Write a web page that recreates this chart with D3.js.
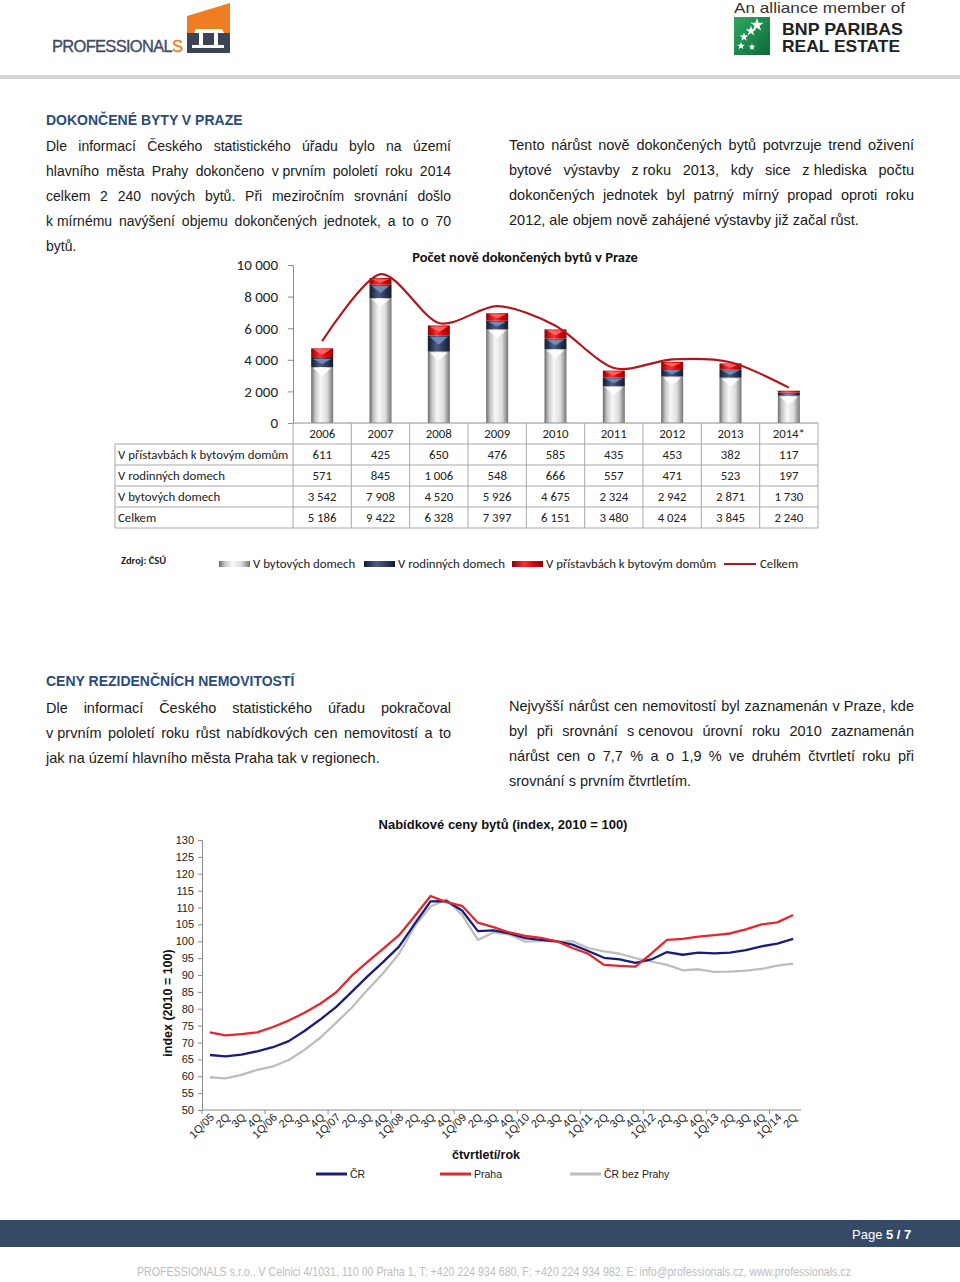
<!DOCTYPE html>
<html>
<head>
<meta charset="utf-8">
<script src="https://cdn.jsdelivr.net/npm/d3@7"></script>
<style>
  body { margin: 0; background: #fff; }
  svg { display: block; }
</style>
</head>
<body>
<script>
// ---- data: completed flats in Prague ----
const years = ["2006", "2007", "2008", "2009", "2010", "2011", "2012", "2013", "2014*"];
const pristavby = [611, 425, 650, 476, 585, 435, 453, 382, 117];
const rodinne = [571, 845, 1006, 548, 666, 557, 471, 523, 197];
const bytove = [3542, 7908, 4520, 5926, 4675, 2324, 2942, 2871, 1730];
const celkem = [5186, 9422, 6328, 7397, 6151, 3480, 4024, 3845, 2240];
const yTicksTop = [0, 2000, 4000, 6000, 8000, 10000];

// ---- data: offer prices index (2010 = 100) ----
const quarters = ["1Q/05", "2Q", "3Q", "4Q", "1Q/06", "2Q", "3Q", "4Q", "1Q/07", "2Q", "3Q", "4Q",
  "1Q/08", "2Q", "3Q", "4Q", "1Q/09", "2Q", "3Q", "4Q", "1Q/10", "2Q", "3Q", "4Q",
  "1Q/11", "2Q", "3Q", "4Q", "1Q/12", "2Q", "3Q", "4Q", "1Q/13", "2Q", "3Q", "4Q", "1Q/14", "2Q"];
const cr = [66.3, 65.9, 66.4, 67.4, 68.6, 70.4, 73.4, 76.8, 80.5, 85.0, 89.6, 93.9,
  98.4, 105.2, 111.8, 111.9, 109.1, 103.0, 103.2, 102.3, 100.9, 100.4, 100.0, 99.0,
  97.1, 95.1, 94.6, 93.6, 94.6, 96.8, 96.0, 96.6, 96.4, 96.6, 97.4, 98.5, 99.3, 100.7];
const praha = [73.0, 72.1, 72.5, 73.0, 74.6, 76.5, 78.8, 81.5, 84.8, 89.8, 93.9, 97.8,
  101.8, 107.5, 113.4, 111.6, 110.5, 105.5, 104.2, 102.6, 101.6, 101.0, 100.0, 98.0,
  96.3, 93.0, 92.7, 92.5, 96.3, 100.4, 100.7, 101.4, 101.8, 102.3, 103.5, 105.0, 105.6, 107.8];
const crBezPrahy = [59.7, 59.4, 60.4, 61.9, 62.9, 64.8, 67.8, 71.4, 75.8, 80.3, 85.6, 90.6,
  96.3, 104.5, 110.3, 112.4, 107.8, 100.4, 102.6, 102.0, 99.9, 100.1, 99.9, 100.0,
  98.0, 97.0, 96.3, 95.0, 94.0, 93.0, 91.4, 91.7, 90.9, 91.0, 91.3, 91.8, 92.8, 93.4];
const yTicksBottom = d3.range(50, 131, 5);

const ARIAL = "'Liberation Sans', Arial, sans-serif";
const CALIBRI = "Carlito, Lato, sans-serif";
const HEAD_BLUE = "#2a4b7c";

const svg = d3.select("body").append("svg")
    .attr("width", 960)
    .attr("height", 1282);

const defs = svg.append("defs");

function hGrad(id, stops) {
  let g = defs.append("linearGradient").attr("id", id)
      .attr("x1", 0).attr("x2", 1).attr("y1", 0).attr("y2", 0);
  stops.forEach(s => g.append("stop").attr("offset", s[0]).attr("stop-color", s[1]));
}
hGrad("gGray", [[0, "#6a6a6a"], [0.18, "#c4c4c4"], [0.42, "#f8f8f8"], [0.72, "#dcdcdc"], [1, "#747474"]]);
hGrad("gNavy", [[0, "#121b30"], [0.4, "#4b5e82"], [0.7, "#2d3c5c"], [1, "#131a2e"]]);
hGrad("gRed", [[0, "#8e0000"], [0.4, "#ff3030"], [0.7, "#e00000"], [1, "#8e0000"]]);
let vg = defs.append("linearGradient").attr("id", "gGreen")
    .attr("x1", 0).attr("x2", 1).attr("y1", 0).attr("y2", 1);
vg.append("stop").attr("offset", 0).attr("stop-color", "#2fa860");
vg.append("stop").attr("offset", 1).attr("stop-color", "#0c6a3a");

// ================= header =================
let logo = svg.append("g");
logo.append("polygon")
    .attr("points", "187,16 230,3 230,33 187,33")
    .attr("fill", "#ee7d23");
logo.append("rect").attr("x", 187).attr("y", 33).attr("width", 43).attr("height", 20).attr("fill", "#3c4357");
// little white "building" in the icon
logo.append("polygon").attr("points", "196,29 222,29 224,33 194,33").attr("fill", "#fff");
logo.append("rect").attr("x", 199).attr("y", 33).attr("width", 4).attr("height", 12).attr("fill", "#fff");
logo.append("rect").attr("x", 214).attr("y", 33).attr("width", 4).attr("height", 12).attr("fill", "#fff");
logo.append("rect").attr("x", 192).attr("y", 45).attr("width", 32).attr("height", 3).attr("fill", "#fff");
let ptxt = logo.append("text")
    .attr("x", 52).attr("y", 52)
    .attr("font-family", ARIAL).attr("font-size", 16.5)
    .attr("letter-spacing", -0.7)
    .attr("fill", "#3f4b66").attr("stroke", "#3f4b66").attr("stroke-width", 0.35);
ptxt.append("tspan").text("PROFESSIONAL");
ptxt.append("tspan").attr("fill", "#ee7d23").attr("stroke", "#ee7d23").text("S");

let bnp = svg.append("g");
bnp.append("text").attr("x", 734).attr("y", 13)
    .attr("font-family", ARIAL).attr("font-size", 15).attr("fill", "#333")
    .attr("textLength", 171).attr("lengthAdjust", "spacingAndGlyphs")
    .text("An alliance member of");
bnp.append("rect").attr("x", 734).attr("y", 17).attr("width", 36).attr("height", 38).attr("fill", "url(#gGreen)");
[[757, 25, 3], [751, 31, 2.4], [744, 37, 2], [741, 46, 1.8], [752, 47, 1.6]].forEach(s => {
  bnp.append("path")
      .attr("d", d3.symbol(d3.symbolStar, s[2] * s[2] * 6)())
      .attr("transform", `translate(${s[0]},${s[1]})`)
      .attr("fill", "#fff");
});
bnp.append("text").attr("x", 782).attr("y", 35)
    .attr("font-family", ARIAL).attr("font-weight", "bold").attr("font-size", 17).attr("fill", "#222")
    .attr("textLength", 121).attr("lengthAdjust", "spacingAndGlyphs").text("BNP PARIBAS");
bnp.append("text").attr("x", 782).attr("y", 52)
    .attr("font-family", ARIAL).attr("font-weight", "bold").attr("font-size", 17).attr("fill", "#222")
    .attr("textLength", 118).attr("lengthAdjust", "spacingAndGlyphs").text("REAL ESTATE");

svg.append("rect").attr("x", 0).attr("y", 75).attr("width", 960).attr("height", 4).attr("fill", "#d4d4d4");

// ================= text blocks =================
function heading(x, y, t) {
  svg.append("text").attr("x", x).attr("y", y)
      .attr("font-family", ARIAL).attr("font-weight", "bold").attr("font-size", 14)
      .attr("fill", HEAD_BLUE).text(t);
}

// justified paragraph, word by word; nbsp keeps one-letter words glued
function paragraph(x, y, w, lines, nJust, size) {
  lines.forEach((line, i) => {
    let t = svg.append("text")
        .attr("y", y + i * 25)
        .attr("font-family", ARIAL).attr("font-size", size)
        .attr("fill", "#1a1a1a");
    if (i >= nJust) {
      t.attr("x", x).text(line);
      return;
    }
    let words = line.split(" ");
    let spans = words.map(wd => t.append("tspan").text(wd));
    let widths = spans.map(s => s.node().getComputedTextLength());
    let gap = (w - d3.sum(widths)) / (words.length - 1);
    let cx = x;
    spans.forEach((s, j) => { s.attr("x", cx); cx += widths[j] + gap; });
  });
}

heading(46, 125, "DOKONČENÉ BYTY V PRAZE");
paragraph(46, 151, 405, [
  "Dle informací Českého statistického úřadu bylo na území",
  "hlavního města Prahy dokončeno v\u00a0prvním pololetí roku 2014",
  "celkem 2 240 nových bytů. Při meziročním srovnání došlo",
  "k\u00a0mírnému navýšení objemu dokončených jednotek, a to o 70",
  "bytů."
], 4, 14);
paragraph(509, 150, 405, [
  "Tento nárůst nově dokončených bytů potvrzuje trend oživení",
  "bytové výstavby z\u00a0roku 2013, kdy sice z\u00a0hlediska počtu",
  "dokončených jednotek byl patrný mírný propad oproti roku",
  "2012, ale objem nově zahájené výstavby již začal růst."
], 3, 14.5);

heading(46, 686, "CENY REZIDENČNÍCH NEMOVITOSTÍ");
paragraph(46, 713, 405, [
  "Dle informací Českého statistického úřadu pokračoval",
  "v\u00a0prvním pololetí roku růst nabídkových cen nemovitostí a to",
  "jak na území hlavního města Praha tak v\u00a0regionech."
], 2, 14.5);
paragraph(509, 711, 405, [
  "Nejvyšší nárůst cen nemovitostí byl zaznamenán v\u00a0Praze, kde",
  "byl při srovnání s\u00a0cenovou úrovní roku 2010 zaznamenán",
  "nárůst cen o 7,7 % a o 1,9 % ve druhém čtvrtletí roku při",
  "srovnání s\u00a0prvním čtvrtletím."
], 3, 14.5);

// ================= chart 1: completed flats =================
const cz = d3.formatLocale({decimal: ",", thousands: "\u00a0", grouping: [3], currency: ["", ""]});
const fmt = cz.format(",d");

const x1 = d3.scaleBand().domain(years).range([293, 818]);
const y1 = d3.scaleLinear().domain([0, 10000]).range([423, 265]);

const c1 = svg.append("g").attr("font-family", CALIBRI);

c1.append("text").attr("x", 525).attr("y", 262)
    .attr("text-anchor", "middle").attr("font-weight", "bold").attr("font-size", 14.5)
    .attr("fill", "#111").text("Počet nově dokončených bytů v Praze");

let yAx1 = c1.append("g").attr("transform", "translate(293,0)")
    .call(d3.axisLeft(y1).tickValues(yTicksTop).tickSize(5).tickPadding(10).tickFormat(d => fmt(d)));
yAx1.select(".domain").attr("stroke", "#8c8c8c");
yAx1.selectAll(".tick line").attr("stroke", "#8c8c8c");
yAx1.selectAll(".tick text").attr("font-family", CALIBRI).attr("font-size", 15).attr("fill", "#222");

const rows = years.map((yr, i) => ({year: yr, bytove: bytove[i], rodinne: rodinne[i], pristavby: pristavby[i]}));
const stack = d3.stack().keys(["bytove", "rodinne", "pristavby"])(rows);
const fills = {bytove: "url(#gGray)", rodinne: "url(#gNavy)", pristavby: "url(#gRed)"};
const chev = {bytove: "#ffffff", rodinne: "#7d93bd", pristavby: "#ff7070"};
const barW = 22;

stack.forEach(layer => {
  let g = c1.append("g");
  g.selectAll("rect").data(layer).join("rect")
      .attr("x", d => x1(d.data.year) + x1.bandwidth() / 2 - barW / 2)
      .attr("y", d => y1(d[1]))
      .attr("width", barW)
      .attr("height", d => y1(d[0]) - y1(d[1]))
      .attr("fill", fills[layer.key]);
  g.selectAll("polygon").data(layer).join("polygon")
      .attr("points", d => {
        let cx = x1(d.data.year) + x1.bandwidth() / 2, t = y1(d[1]);
        let h = Math.min(8, (y1(d[0]) - t) * 0.55);
        return [[cx - barW / 2 + 2, t + 1], [cx + barW / 2 - 2, t + 1], [cx, t + 1 + h]].join(" ");
      })
      .attr("fill", chev[layer.key]).attr("opacity", 0.85);
});

const line1 = d3.line()
    .x((d, i) => x1(years[i]) + x1.bandwidth() / 2)
    .y(d => y1(d))
    .curve(d3.curveCardinal.tension(0.15));
c1.append("path").datum(celkem)
    .attr("d", line1).attr("fill", "none")
    .attr("stroke", "#b2161c").attr("stroke-width", 2.2);

// x axis baseline
c1.append("line").attr("x1", 293).attr("x2", 818).attr("y1", 423).attr("y2", 423).attr("stroke", "#8c8c8c");

// data table
const tRows = [
  {label: "V přístavbách k bytovým domům", vals: pristavby},
  {label: "V rodinných domech", vals: rodinne},
  {label: "V bytových domech", vals: bytove},
  {label: "Celkem", vals: celkem}
];
const rowH = 21, tTop = 423, tLeft = 115, tRight = 818;
let tbl = c1.append("g").attr("font-size", 12.8).attr("fill", "#222");
const lineCol = "#a8a8a8";
// header row
years.forEach(yr => {
  tbl.append("text").attr("x", x1(yr) + x1.bandwidth() / 2).attr("y", tTop + 15)
      .attr("text-anchor", "middle").text(yr);
});
x1.domain().concat([null]).forEach(yr => {
  let xx = yr === null ? tRight : x1(yr);
  tbl.append("line").attr("x1", xx).attr("x2", xx).attr("y1", tTop).attr("y2", tTop + rowH * 5).attr("stroke", lineCol);
});
tbl.append("line").attr("x1", tLeft).attr("x2", tLeft).attr("y1", tTop + rowH).attr("y2", tTop + rowH * 5).attr("stroke", lineCol);
d3.range(1, 6).forEach(r => {
  tbl.append("line").attr("x1", tLeft).attr("x2", tRight)
      .attr("y1", tTop + rowH * r).attr("y2", tTop + rowH * r).attr("stroke", lineCol);
});
tRows.forEach((row, r) => {
  let yy = tTop + rowH * (r + 1) + 15;
  tbl.append("text").attr("x", tLeft + 3).attr("y", yy).text(row.label);
  row.vals.forEach((v, i) => {
    tbl.append("text").attr("x", x1(years[i]) + x1.bandwidth() / 2).attr("y", yy)
        .attr("text-anchor", "middle").text(fmt(v));
  });
});

// legend
let lg1 = c1.append("g").attr("font-size", 12.8).attr("fill", "#222");
lg1.append("text").attr("x", 121).attr("y", 564).attr("font-weight", "bold").attr("font-size", 10.5).text("Zdroj: ČSÚ");
const legItems = [
  {x: 219, fill: "url(#gGray)", label: "V bytových domech"},
  {x: 364, fill: "url(#gNavy)", label: "V rodinných domech"},
  {x: 512, fill: "url(#gRed)", label: "V přístavbách k bytovým domům"}
];
legItems.forEach(it => {
  lg1.append("rect").attr("x", it.x).attr("y", 561).attr("width", 31).attr("height", 6).attr("fill", it.fill);
  lg1.append("text").attr("x", it.x + 34).attr("y", 568).text(it.label);
});
lg1.append("line").attr("x1", 724).attr("x2", 756).attr("y1", 564).attr("y2", 564).attr("stroke", "#b2161c").attr("stroke-width", 2);
lg1.append("text").attr("x", 760).attr("y", 568).text("Celkem");

// ================= chart 2: price index =================
const x2 = d3.scaleBand().domain(d3.range(quarters.length)).range([202, 801]);
const y2 = d3.scaleLinear().domain([50, 130]).range([1110, 840]);
const c2 = svg.append("g").attr("font-family", ARIAL);

c2.append("text").attr("x", 503).attr("y", 829)
    .attr("text-anchor", "middle").attr("font-weight", "bold").attr("font-size", 13)
    .attr("fill", "#111").text("Nabídkové ceny bytů (index, 2010 = 100)");

let yAx2 = c2.append("g").attr("transform", "translate(202,0)")
    .call(d3.axisLeft(y2).tickValues(yTicksBottom).tickSize(4).tickPadding(4));
yAx2.select(".domain").attr("stroke", "#8c8c8c");
yAx2.selectAll(".tick line").attr("stroke", "#8c8c8c");
yAx2.selectAll(".tick text").attr("font-family", ARIAL).attr("font-size", 11).attr("fill", "#222");

c2.append("line").attr("x1", 202).attr("x2", 801).attr("y1", 1110).attr("y2", 1110).attr("stroke", "#8c8c8c");
d3.range(0, quarters.length, 4).forEach(i => {
  c2.append("line").attr("x1", x2(i)).attr("x2", x2(i)).attr("y1", 1110).attr("y2", 1114).attr("stroke", "#8c8c8c");
});
quarters.forEach((q, i) => {
  let cx = x2(i) + x2.bandwidth() / 2;
  c2.append("text")
      .attr("transform", `translate(${cx + 5},${1118}) rotate(-45)`)
      .attr("text-anchor", "end").attr("font-size", 11).attr("fill", "#222")
      .text(q);
});

c2.append("text")
    .attr("transform", "translate(172,1003) rotate(-90)")
    .attr("text-anchor", "middle").attr("font-weight", "bold").attr("font-size", 12.5)
    .attr("fill", "#111").text("index (2010 = 100)");
c2.append("text").attr("x", 486).attr("y", 1159)
    .attr("text-anchor", "middle").attr("font-weight", "bold").attr("font-size", 12.5)
    .attr("fill", "#111").text("čtvrtletí/rok");

const series = [
  {name: "ČR bez Prahy", vals: crBezPrahy, color: "#bdbdbd", lx: 570},
  {name: "ČR", vals: cr, color: "#1a1d78", lx: 316},
  {name: "Praha", vals: praha, color: "#e5262b", lx: 440}
];
const line2 = d3.line()
    .x((d, i) => x2(i) + x2.bandwidth() / 2)
    .y(d => y2(d));
series.forEach(s => {
  c2.append("path").datum(s.vals)
      .attr("d", line2).attr("fill", "none")
      .attr("stroke", s.color).attr("stroke-width", 2.3)
      .attr("stroke-linejoin", "round");
  c2.append("line").attr("x1", s.lx).attr("x2", s.lx + 31).attr("y1", 1174).attr("y2", 1174)
      .attr("stroke", s.color).attr("stroke-width", 3);
  c2.append("text").attr("x", s.lx + 34).attr("y", 1178)
      .attr("font-size", 10.5).attr("fill", "#222").text(s.name);
});

// ================= footer =================
svg.append("rect").attr("x", 0).attr("y", 1220).attr("width", 960).attr("height", 27).attr("fill", "#344a67");
let pg = svg.append("text").attr("x", 852).attr("y", 1239)
    .attr("font-family", ARIAL).attr("font-size", 13).attr("fill", "#fff");
pg.append("tspan").text("Page ");
pg.append("tspan").attr("font-weight", "bold").text("5 / 7");
svg.append("text").attr("x", 137).attr("y", 1276)
    .attr("font-family", ARIAL).attr("font-size", 12).attr("fill", "#bdbdbd")
    .attr("textLength", 714).attr("lengthAdjust", "spacingAndGlyphs")
    .text("PROFESSIONALS s.r.o., V Celnici 4/1031, 110 00 Praha 1, T: +420 224 934 680, F: +420 224 934 982, E: info@professionals.cz, www.professionals.cz");
</script>
</body>
</html>
